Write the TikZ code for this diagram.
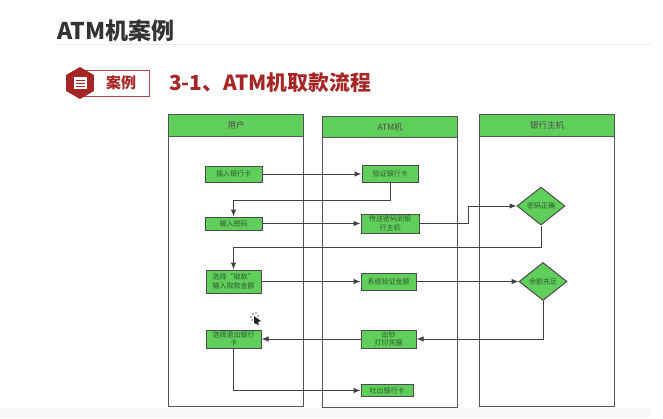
\documentclass[tikz,border=0pt]{standalone}
\usepackage{fontspec}
\setmainfont{Noto Sans CJK SC}
\usetikzlibrary{positioning, arrows.meta, shapes.geometric}

\definecolor{boxgreen}{HTML}{5FCE5A}
\definecolor{caseRed}{HTML}{A62525}
\definecolor{laneGray}{HTML}{555555}
\definecolor{stepText}{HTML}{2F5A2F}

\tikzset{
    lanebody/.style={draw=laneGray, line width=1.3pt, rectangle, anchor=north west, inner sep=0pt},
    lanehead/.style={draw=laneGray, line width=1.3pt, rectangle, fill=boxgreen, anchor=north west, inner sep=0pt, text=black!70, font=\fontsize{8.5}{10}\selectfont},
    stepbox/.style={draw=black!70, line width=1pt, rectangle, fill=boxgreen, inner sep=0pt, align=center, text=stepText, font=\fontsize{7}{8.5}\selectfont},
    choicebox/.style={draw=black!70, line width=1pt, diamond, fill=boxgreen, inner sep=0pt, text=stepText, font=\fontsize{7}{8.5}\selectfont, minimum width=48pt, minimum height=38pt},
    flow/.style={-{Latex[length=7pt, width=5.5pt]}, draw=black!75, line width=1pt}
}

\begin{document}
\begin{tikzpicture}[x=1pt, y=-1pt]
    \useasboundingbox (0, 0) rectangle (663, 418);
    \fill [black!3] (0, 408) rectangle (650, 418);

    % page heading
    \node (heading) [anchor=west, inner sep=0pt, font=\fontsize{23}{25}\selectfont\bfseries, text=black!80] at (57, 31) {ATM机案例};
    \coordinate (ruleend) at (650, 44);
    \draw [black!8, line width=.6pt] (57, 44) -- (ruleend);

    % case badge
    \node (badge) [draw=caseRed!85, line width=.8pt, rectangle, minimum width=69pt, minimum height=26pt, anchor=west, inner sep=0pt] at (80, 83.5) {};
    \node (casetext) [inner sep=0pt, text=caseRed, font=\fontsize{15}{17}\selectfont\bfseries] at (121, 83) {案例};
    \node (hexicon) [regular polygon, regular polygon sides=6, shape border rotate=30, fill=caseRed, minimum size=32pt, inner sep=0pt] at (80, 83) {};
    \fill [white] (74, 77) rectangle (87, 89);
    \draw [caseRed, line width=.7pt] (76, 80) -- (85, 80) (76, 83) -- (85, 83) (76, 86) -- (85, 86);
    \node (casetitle) [anchor=west, inner sep=0pt, text=caseRed, font=\fontsize{20.8}{23}\selectfont\bfseries] at (169, 83) {3-1、ATM机取款流程};

    % lanes
    \node (userbody) [lanebody, minimum width=135pt, minimum height=292pt] at (168, 114) {};
    \node (userhead) [lanehead, minimum width=135pt, minimum height=22pt] at (168, 114) {用户};
    \node (atmbody) [lanebody, minimum width=135pt, minimum height=291pt] at (322, 116) {};
    \node (atmhead) [lanehead, minimum width=135pt, minimum height=21pt] at (322, 116) {ATM机};
    \node (bankbody) [lanebody, minimum width=135pt, minimum height=292pt] at (479, 114) {};
    \node (bankhead) [lanehead, minimum width=135pt, minimum height=22pt] at (479, 114) {银行主机};

    % steps
    \node (insert) [stepbox, minimum width=57pt, minimum height=16pt] at (233.5, 174) {插入银行卡};
    \node (verify) [stepbox, minimum width=56pt, minimum height=17pt] at (390, 174) {验证银行卡};
    \node (inputpin) [stepbox, minimum width=57pt, minimum height=13pt] at (233.5, 223.5) {输入密码};
    \node (sendpin) [stepbox, minimum width=58pt, minimum height=19pt] at (390, 223.5) {传送密码到银\\行主机};
    \node (pinok) [choicebox] at (541, 206) {密码正确};
    \node (withdraw) [stepbox, minimum width=55pt, minimum height=23pt] at (233.5, 281.5) {选择“取款”\\输入取款金额};
    \node (system) [stepbox, minimum width=55pt, minimum height=17pt] at (388.5, 281.5) {系统验证金额};
    \node (funds) [choicebox] at (543, 281.5) {余额充足};
    \node (quit) [stepbox, minimum width=55pt, minimum height=18pt] at (233.5, 339) {选择退出银行\\卡};
    \node (cash) [stepbox, minimum width=55pt, minimum height=18pt] at (388.5, 339) {出钞\\打印凭据};
    \node (eject) [stepbox, minimum width=52pt, minimum height=12pt] at (387, 390.5) {吐出银行卡};

    % connectors
    \draw [flow] (insert.east) -- (verify.west);
    \draw [flow] (verify.south) -- ++(0, 17) -| (inputpin.north);
    \draw [flow] (inputpin.east) -- (sendpin.west);
    \draw [flow] (sendpin.east) -- ++(49, 0) |- (pinok.west);
    \draw [flow] (pinok.south) -- ++(0, 22) -| (withdraw.north);
    \draw [flow] (withdraw.east) -- (system.west);
    \draw [flow] (system.east) -- (funds.west);
    \draw [flow] (funds.south) |- (cash.east);
    \draw [flow] (cash.west) -- (quit.east);
    \draw [flow] (quit.south) |- (eject.west);

    % pointer
    \fill [black!85] (254, 316) -- (261, 321) -- (258, 322) -- (259, 325) -- (254, 323) -- cycle;
    \foreach \dotx/\doty in {251/317, 253/314, 256/313, 258/316, 252/320} {
        \fill [black!60] (\dotx, \doty) circle (.8pt);
    }
\end{tikzpicture}
\end{document}
